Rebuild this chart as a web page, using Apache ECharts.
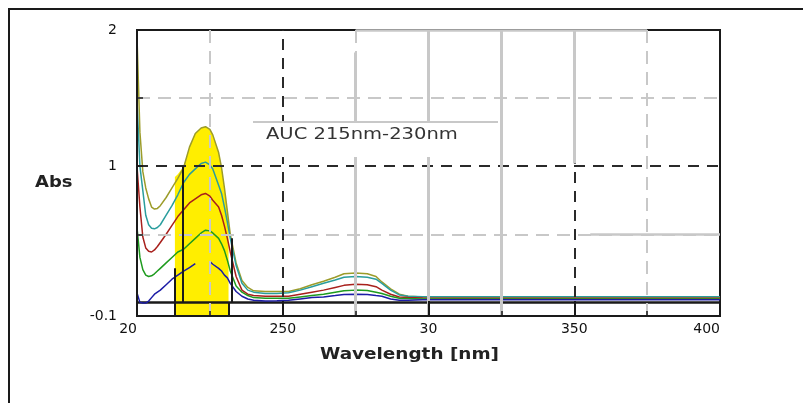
<!DOCTYPE html>
<html><head><meta charset="utf-8">
<script src="https://cdn.jsdelivr.net/npm/echarts@6/dist/echarts.min.js"></script>
<style>html,body{margin:0;padding:0;background:#fff}#c{width:803px;height:403px}</style>
</head><body><div id="c"></div>
<script>
// ---- data ----
const wavelengths = [200,201,202,203,204,205,206,207,208, 210,212,214,216,218,220,222, 223.5,225,226,228,229,230,231,232, 234,236,238,240, 244,248,252,256,260,264,268, 271,275,279,282,284,287,290,293, 298,310,330,350,370,400];
const absOlive = [1.95,1.25,0.96,0.84,0.76,0.70,0.685,0.69,0.71, 0.77,0.84,0.91,0.99,1.14,1.24,1.28, 1.29,1.27,1.23,1.10,0.99,0.84,0.67,0.50, 0.29,0.16,0.11,0.085, 0.08,0.08,0.08,0.10,0.13,0.155,0.185, 0.21,0.215,0.21,0.19,0.15,0.10,0.06,0.045, 0.04,0.04,0.04,0.04,0.04,0.04];
const absTeal = [1.48,1.0,0.82,0.64,0.57,0.545,0.54,0.55,0.57, 0.64,0.71,0.79,0.88,0.94,0.98,1.02, 1.03,1.01,0.98,0.86,0.80,0.70,0.59,0.47, 0.27,0.14,0.09,0.075, 0.065,0.065,0.07,0.09,0.115,0.14,0.165, 0.185,0.19,0.185,0.17,0.14,0.09,0.055,0.045, 0.042,0.042,0.042,0.042,0.042,0.042];
const absRed = [1.00,0.70,0.48,0.40,0.375,0.37,0.385,0.41,0.44, 0.50,0.565,0.63,0.68,0.73,0.76,0.79, 0.80,0.78,0.75,0.70,0.64,0.56,0.47,0.37, 0.19,0.09,0.06,0.05, 0.045,0.045,0.045,0.06,0.075,0.09,0.11, 0.125,0.133,0.13,0.115,0.09,0.06,0.04,0.035, 0.032,0.03,0.03,0.03,0.03,0.03];
const absGreen = [0.55,0.33,0.24,0.20,0.19,0.195,0.21,0.23,0.25, 0.29,0.33,0.37,0.39,0.43,0.47,0.51, 0.53,0.525,0.51,0.47,0.43,0.38,0.31,0.23, 0.12,0.075,0.05,0.035, 0.03,0.03,0.03,0.04,0.05,0.06,0.075, 0.085,0.09,0.088,0.075,0.065,0.045,0.03,0.028, 0.025,0.025,0.025,0.025,0.025,0.025];
const absBlue = [0.07,0.0,-0.005,-0.005,0.01,0.035,0.06,0.075,0.09, 0.13,0.17,0.20,0.23,0.255,0.285,null, null,0.30,0.28,0.25,0.23,0.20,0.18,0.14, 0.08,0.045,0.025,0.015, 0.01,0.012,0.015,0.025,0.035,0.04,0.05, 0.058,0.06,0.058,0.05,0.045,0.025,0.015,0.015, 0.02,0.02,0.02,0.02,0.02,0.02];
const aucWavelengths = [213,214,216,218,220,222,223.5,225,226,228,229,230,231,231.4];
const aucValues = [0.92,0.94,1.0,1.14,1.24,1.28,1.29,1.27,1.23,1.10,0.99,0.84,0.67,0.60];
const xTickValues = [200,250,300,350,400];
const xTickLabels = ['20','250','30','350','400'];
const yTickValues = [-0.1,1,2];
const yTickLabels = ['-0.1','1','2'];
const xMajorGrid = [250,300,350];
const xMinorGrid = [225,275,325,375];
const yMajorGrid = [1];
const yMinorGrid = [0.5,1.5];

// ---- chart ----
const BLACK = '#1a1a1a', GRAY = '#c8c8c8';
const pair = (xs, ys) => xs.map((x, i) => [x, ys[i]]);
const blackDash = {color: '#2a2a2a', width: 2, type: [11, 8]};
const grayDash = {color: GRAY, width: 2, type: [13, 8]};
const blackSolid = {color: BLACK, width: 2, type: 'solid'};
const graySolid = {color: GRAY, width: 3, type: 'solid'};
const seg = (x1, y1, x2, y2, st) => [{coord: [x1, y1], lineStyle: st}, {coord: [x2, y2]}];
const ml = (data) => ({silent: true, symbol: ['none', 'none'], label: {show: false}, emphasis: {disabled: true}, animation: false, data});
const font = 'DejaVu Sans';

const curve = (name, vals, color) => ({
  type: 'line', name, data: pair(wavelengths, vals), symbol: 'none', showSymbol: false,
  connectNulls: false, z: 4, silent: true, lineStyle: {color, width: 1.5}
});

const chart = echarts.init(document.getElementById('c'), null, {renderer: 'canvas'});
chart.setOption({
  animation: false,
  backgroundColor: '#fff',
  grid: {left: 137, right: 83, top: 30, bottom: 87, show: true, borderColor: BLACK, borderWidth: 2, backgroundColor: 'transparent'},
  xAxis: {
    type: 'value', min: 200, max: 400, interval: 50, z: 5,
    axisLine: {show: true, onZero: false, lineStyle: {color: BLACK, width: 2}},
    axisTick: {show: true, inside: true, length: 15, lineStyle: {color: BLACK, width: 2}},
    minorTick: {show: true, splitNumber: 2, length: 5, lineStyle: {color: BLACK, width: 1.5}},
    axisLabel: {
      margin: 6, fontSize: 14, fontFamily: font, color: '#111',
      alignMinLabel: 'right', alignMaxLabel: 'right',
      formatter: v => { const i = xTickValues.indexOf(v); return i >= 0 ? xTickLabels[i] : ''; }
    },
    splitLine: {show: false}, minorSplitLine: {show: false}
  },
  yAxis: {
    type: 'value', min: -0.1, max: 2, z: 5,
    axisLine: {show: true, onZero: false, lineStyle: {color: BLACK, width: 2}},
    axisTick: {show: true, inside: true, length: 6, customValues: [0.5, 1, 1.5], lineStyle: {color: BLACK, width: 1.5}},
    axisLabel: {
      customValues: yTickValues, margin: 20, fontSize: 14, fontFamily: font, color: '#111',
      formatter: v => { const i = yTickValues.findIndex(t => Math.abs(t - v) < 1e-6); return i >= 0 ? yTickLabels[i] : ''; }
    },
    splitLine: {show: false}
  },
  series: [
    {
      type: 'line', name: 'AUC', data: pair(aucWavelengths, aucValues), symbol: 'none', z: 1, silent: true,
      lineStyle: {opacity: 0}, areaStyle: {color: '#ffee00', opacity: 1, origin: 'start'}
    },
    {
      type: 'line', name: 'baseline', data: [[200, 0], [400, 0]], symbol: 'none', z: 2, silent: true, clip: false,
      lineStyle: {color: BLACK, width: 2.5},
      markLine: ml([
        ...yMinorGrid.map(v => ({yAxis: v, lineStyle: grayDash})),
        ...yMajorGrid.map(v => ({yAxis: v, lineStyle: blackDash})),
        ...xMinorGrid.map(v => ({xAxis: v, lineStyle: grayDash})),
        ...xMajorGrid.map(v => ({xAxis: v, lineStyle: blackDash})),
        seg(215.6, 0, 215.6, 1.0, blackSolid),
        seg(212.9, -0.1, 212.9, 0.25, blackSolid),
        seg(232.5, 0, 232.5, 0.47, blackSolid),
        seg(231.4, -0.1, 231.4, 0, blackSolid)
      ])
    },
    {
      type: 'line', name: 'overlay', data: [], symbol: 'none', z: 3, silent: true, clip: false,
      markLine: ml([
        seg(275, 1.835, 275, -0.1, graySolid),
        seg(300, 2, 300, -0.1, graySolid),
        seg(325, 2, 325, -0.1, graySolid),
        seg(350, 2, 350, 1.02, graySolid),
        seg(275, 2, 375, 2, {color: GRAY, width: 2.5, type: 'solid'}),
        seg(355.5, 0.5, 400, 0.5, {color: GRAY, width: 2.5, type: 'solid'})
      ])
    },
    curve('s1', absOlive, '#9c9c2a'),
    curve('s2', absTeal, '#2a9d9d'),
    curve('s3', absRed, '#a8201c'),
    curve('s4', absGreen, '#1e9b1e'),
    curve('s5', absBlue, '#1c1ca6')
  ],
  graphic: [
    {type: 'rect', silent: true, z: 0, shape: {x: 9, y: 9, width: 830, height: 430}, style: {fill: 'none', stroke: BLACK, lineWidth: 2}},
    {type: 'rect', silent: true, z: 10, shape: {x: 253, y: 122, width: 245, height: 35}, style: {fill: '#fff'}},
    {type: 'line', silent: true, z: 11, shape: {x1: 253, y1: 122, x2: 498, y2: 122}, style: {stroke: GRAY, lineWidth: 2}},
    {type: 'text', silent: true, z: 11, x: 266, y: 135, scaleX: 1.22, style: {text: 'AUC 215nm-230nm', font: '16px "DejaVu Sans"', fill: '#333', verticalAlign: 'middle'}},
    {type: 'text', silent: true, z: 11, x: 35, y: 183, scaleX: 1.2, style: {text: 'Abs', font: 'bold 15px "DejaVu Sans"', fill: '#222', verticalAlign: 'middle'}},
    {type: 'text', silent: true, z: 11, x: 320, y: 355, scaleX: 1.15, style: {text: 'Wavelength [nm]', font: 'bold 16px "DejaVu Sans"', fill: '#222', verticalAlign: 'middle'}}
  ]
});
</script></body></html>
